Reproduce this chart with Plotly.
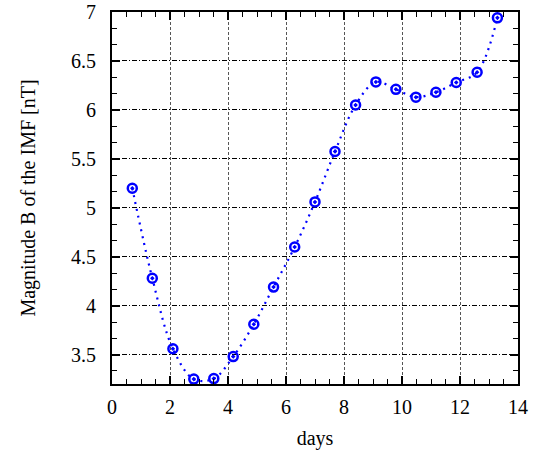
import plotly.graph_objects as go

days = [0.70, 1.39, 2.10, 2.82, 3.51, 4.18, 4.89, 5.57, 6.30, 7.00,
        7.69, 8.40, 9.10, 9.79, 10.48, 11.17, 11.87, 12.59, 13.29]
bmag = [5.20, 4.28, 3.56, 3.25, 3.255, 3.48, 3.81, 4.19, 4.60, 5.06,
        5.575, 6.05, 6.286, 6.21, 6.13, 6.18, 6.28, 6.385, 6.94]

fig = go.Figure()
fig.add_trace(go.Scatter(
    x=days, y=bmag, mode="lines+markers",
    line=dict(color="#0000ff", width=2.2, dash="2px,5px", shape="spline", smoothing=1.0),
    marker=dict(symbol="circle-open-dot", size=9, color="#0000ff",
                line=dict(width=2.5, color="#0000ff")),
    showlegend=False,
))

font = dict(family="Liberation Serif, Times New Roman, serif", size=20, color="black")
fig.update_layout(
    width=545, height=451,
    margin=dict(l=112, r=27, t=12, b=67),
    paper_bgcolor="white", plot_bgcolor="white",
    font=font,
)
fig.update_xaxes(
    range=[0, 14], dtick=2, tick0=0, automargin=False,
    showline=True, linecolor="black", linewidth=2, mirror="ticks",
    ticks="inside", ticklen=8, tickwidth=1.5, tickcolor="black",
    showgrid=True, gridcolor="#555555", gridwidth=1, griddash="3px,2px",
    minor=dict(dtick=0.5, tick0=0, ticks="inside", ticklen=5, tickwidth=1, tickcolor="black", showgrid=False),
    zeroline=False,
    ticklabelstandoff=4,
    title=dict(text="days", font=font, standoff=14),
    tickfont=font,
)
fig.update_yaxes(
    range=[3.2, 7], dtick=0.5, tick0=3.5, automargin=False,
    showline=True, linecolor="black", linewidth=2, mirror="ticks",
    ticks="inside", ticklen=8, tickwidth=1.5, tickcolor="black",
    showgrid=True, gridcolor="black", gridwidth=1, griddash="5px,2px,1px,2px",
    minor=dict(dtick=0.5/3, tick0=3.5, ticks="inside", ticklen=5, tickwidth=1, tickcolor="black", showgrid=False),
    zeroline=False,
    ticklabelstandoff=10,
    title=dict(text="Magnitude B of the IMF [nT]", font=font, standoff=30),
    tickfont=font,
)
fig.write_html("out.html")
